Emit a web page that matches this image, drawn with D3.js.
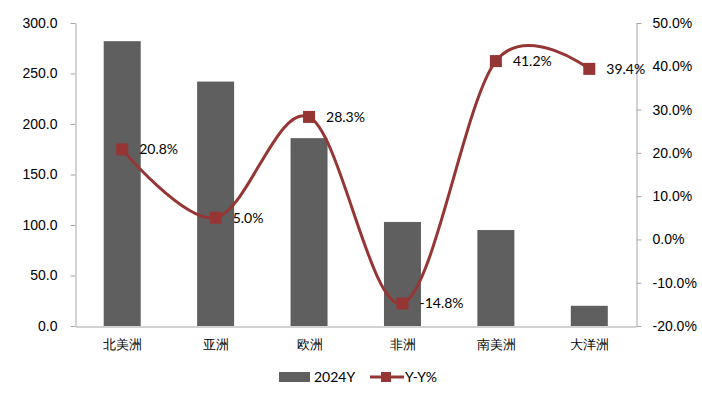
<!DOCTYPE html>
<html>
<head>
<meta charset="utf-8">
<script src="https://cdn.jsdelivr.net/npm/d3@7"></script>
<style>
  body { margin: 0; background: #fff; }
  svg { display: block; font-family: Lato, "Noto Sans CJK SC", sans-serif; }
</style>
</head>
<body>
<svg id="svg"></svg>
<script>
const categories = ["北美洲", "亚洲", "欧洲", "非洲", "南美洲", "大洋洲"]
const values2024 = [282, 242, 186, 103, 95, 20]
const yoy = [20.8, 5.0, 28.3, -14.8, 41.2, 39.4]
const leftTicks = [0, 50, 100, 150, 200, 250, 300]
const rightTicks = [-20, -10, 0, 10, 20, 30, 40, 50]

const barColor = "#5f5f5f"
const lineColor = "#963634"
const axisColor = "#a6a6a6"

// plain hyphen for negatives, like the original
const pct = (d) => d.toFixed(1) + "%"

const svg = d3.select("#svg").attr("width", 702).attr("height", 395)

const xPoint = d3.scalePoint().domain(categories).range([75.5, 636]).padding(0.5)
const yLeft = d3.scaleLinear().domain([0, 300]).range([326, 23])
const yRight = d3.scaleLinear().domain([-20, 50]).range([326, 23])

// bars
svg.append("g")
  .selectAll("rect")
  .data(categories)
  .enter()
  .append("rect")
  .attr("x", (d) => xPoint(d) - 18.5)
  .attr("width", 37)
  .attr("y", (d, i) => yLeft(values2024[i]))
  .attr("height", (d, i) => yLeft(0) - yLeft(values2024[i]))
  .attr("fill", barColor)

// left axis
const leftAxis = svg.append("g")
  .attr("transform", "translate(75.5,0)")
  .call(d3.axisLeft(yLeft).tickValues(leftTicks).tickSize(5).tickSizeOuter(0).tickFormat((d) => d.toFixed(1)))
leftAxis.selectAll("path, line").attr("stroke", axisColor)
leftAxis.selectAll("text").attr("font-size", 14).attr("fill", "#000").attr("x", -18)

// right axis
const rightAxis = svg.append("g")
  .attr("transform", "translate(636.5,0)")
  .call(d3.axisRight(yRight).tickValues(rightTicks).tickSize(5).tickSizeOuter(0).tickFormat(pct))
rightAxis.selectAll("path, line").attr("stroke", axisColor)
rightAxis.selectAll("text").attr("font-size", 14).attr("fill", "#000").attr("x", 16)

// bottom axis
const bottomAxis = svg.append("g")
  .attr("transform", "translate(0,326.5)")
  .call(d3.axisBottom(xPoint).tickSize(0).tickSizeOuter(0))
bottomAxis.selectAll("path").attr("stroke", axisColor)
bottomAxis.selectAll("text").attr("font-size", 13).attr("fill", "#000").attr("dy", "1.5em")

// yoy line
const line = d3.line()
  .x((d, i) => xPoint(categories[i]))
  .y((d) => yRight(d))
  .curve(d3.curveCardinal.tension(0))

svg.append("path")
  .datum(yoy)
  .attr("d", line)
  .attr("fill", "none")
  .attr("stroke", lineColor)
  .attr("stroke-width", 3)

svg.append("g")
  .selectAll("rect")
  .data(yoy)
  .enter()
  .append("rect")
  .attr("x", (d, i) => xPoint(categories[i]) - 6)
  .attr("y", (d) => yRight(d) - 6)
  .attr("width", 12)
  .attr("height", 12)
  .attr("fill", lineColor)

svg.append("g")
  .selectAll("text")
  .data(yoy)
  .enter()
  .append("text")
  .attr("x", (d, i) => xPoint(categories[i]) + 17)
  .attr("y", (d) => yRight(d) + 5)
  .attr("font-size", 14)
  .attr("fill", "#000")
  .text(pct)

// legend
const legend = svg.append("g").attr("transform", "translate(0,377)")
legend.append("rect").attr("x", 279).attr("y", -5).attr("width", 31).attr("height", 10).attr("fill", barColor)
legend.append("text").attr("x", 314).attr("y", 5).attr("font-size", 14).text("2024Y")
legend.append("line").attr("x1", 370).attr("x2", 404).attr("y1", 0).attr("y2", 0).attr("stroke", lineColor).attr("stroke-width", 3)
legend.append("rect").attr("x", 381).attr("y", -5).attr("width", 10).attr("height", 10).attr("fill", lineColor)
legend.append("text").attr("x", 405).attr("y", 5).attr("font-size", 14).text("Y-Y%")
</script>
</body>
</html>
